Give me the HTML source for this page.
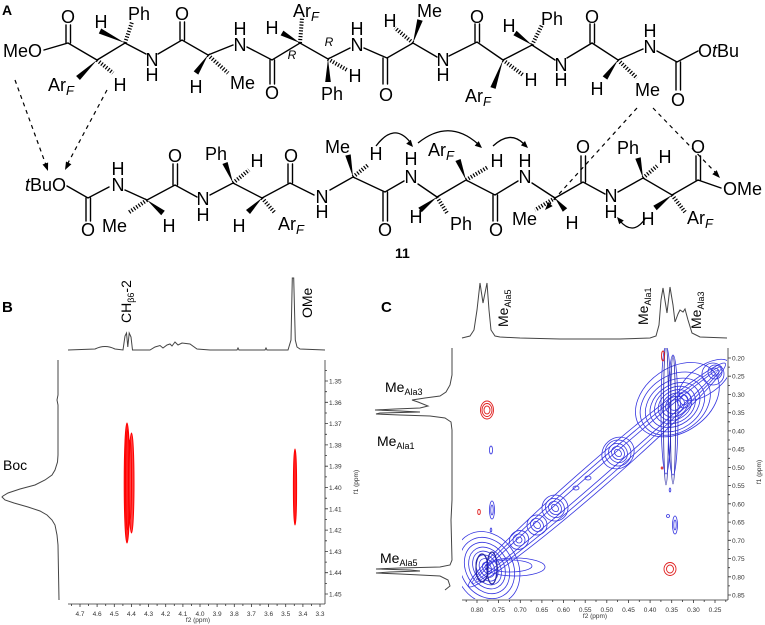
<!DOCTYPE html>
<html><head><meta charset="utf-8"><style>
html,body{margin:0;padding:0;background:#fff;}
svg{display:block;}
.c{font-family:"Liberation Sans",Arial,sans-serif;font-size:18px;fill:#000;}
.m{text-anchor:middle;}
.ax{font-family:"Liberation Sans",Arial,sans-serif;font-size:6.5px;fill:#333;}
.lb{font-family:"Liberation Sans",Arial,sans-serif;font-size:14px;fill:#000;}
</style></head><body>
<svg width="765" height="625" viewBox="0 0 765 625" xmlns="http://www.w3.org/2000/svg">
<rect width="765" height="625" fill="#fff"/>
<defs>
<clipPath id="cc"><rect x="462" y="348" width="265" height="251"/></clipPath>
</defs>
<text x="2" y="15" font-family="Liberation Sans,Arial,sans-serif" font-size="14" font-weight="bold">A</text>
<text x="2" y="312" font-family="Liberation Sans,Arial,sans-serif" font-size="15" font-weight="bold">B</text>
<text x="381" y="312" font-family="Liberation Sans,Arial,sans-serif" font-size="15" font-weight="bold">C</text>

<g stroke="#000" stroke-width="1.4" fill="none" stroke-linecap="round">
<path d="M44,50 L68,43 L97,60 L125,43 L146,54 M158,54 L182,40 L208,55 L233,45 M247,47 L272,60 L300,43 L328,59 L350,48 M364,48 L387,58 L413,43 L437,57 M449,56 L477,42 L503,60 L532,45 L555,60 M567,58 L592,43 L618,60 L643,49 M657,51 L677,62 L698,51"/>
<path d="M66,43 V25 M70.5,43 V25 M180,40 V22 M184.5,40 V22 M270,60 V84 M274.5,60 V84 M383,58 V84 M387.5,58 V84 M475,42 V24 M479.5,42 V24 M590,43 V24 M594.5,43 V24 M676,62 V90 M680.5,62 V90"/>
<path d="M67,186 L88,198 L109,187 M125,190 L147,200 L175,185 L197,197 M210,195 L233,183 L262,198 L290,183 L314,195 M330,190 L353,177 L385,192 L404,181 M418,184 L437,197 L466,180 L495,195 L518,181 M532,183 L555,198 L583,182 L605,194 M618,192 L643,178 L672,195 L698,180 L721,188"/>
<path d="M86,198 V221 M90.5,198 V221 M173,185 V164 M177.5,185 V164 M288,183 V164 M292.5,183 V164 M383,192 V221 M387.5,192 V221 M493,195 V221 M497.5,195 V221 M581,182 V156 M585.5,182 V156 M696,180 V156 M700.5,180 V156"/>
</g>
<g stroke="#000" stroke-width="4" stroke-dasharray="1.2,1.7" fill="none">
<path d="M97,60 L113,73 M125,43 L132,22 M208,55 L228,73 M300,43 L302,18 M328,59 L347,70 M413,43 L395,28 M503,60 L523,75 M532,45 L542,25 M618,60 L637,78"/>
<path d="M147,200 L128,213 M233,183 L249,170 M262,198 L275,213 M353,177 L368,165 M437,197 L447,213 M466,180 L488,167 M555,198 L535,210 M643,178 L657,166 M672,195 L685,212"/>
</g>
<g fill="#000">
<polygon points="97,60 76.1,76 79.9,80"/>
<polygon points="125,43 101.2,28.5 98.8,33.5"/>
<polygon points="208,55 193.7,71.4 198.3,74.6"/>
<polygon points="300,43 283.4,30.6 280.6,35.4"/>
<polygon points="328,59 325.2,82 330.8,82"/>
<polygon points="413,43 422.7,20.8 417.3,19.2"/>
<polygon points="503,60 490.4,87.1 495.6,88.9"/>
<polygon points="532,45 516.6,30.7 513.4,35.3"/>
<polygon points="618,60 602.7,76.4 607.3,79.6"/>
<polygon points="147,200 161.2,215.2 164.8,210.8"/>
<polygon points="233,183 227.6,162 222.4,164"/>
<polygon points="262,198 246,210 250,214"/>
<polygon points="353,177 350.7,154.4 345.3,155.6"/>
<polygon points="437,197 418.3,207.8 421.7,212.2"/>
<polygon points="466,180 460.6,159 455.4,161"/>
<polygon points="555,198 562.8,211.8 567.2,208.2"/>
<polygon points="643,178 640.7,157.3 635.3,158.7"/>
<polygon points="672,195 653.3,205.8 656.7,210.2"/>
</g>
<g stroke="#000" stroke-width="1.2" stroke-dasharray="4,4" fill="none">
<path d="M15,80 L46,165 M107,90 L68,163 M637,108 L549,205 M653,108 L715,172"/>
</g>
<g fill="#000">
<polygon points="48,171 48.1,162.5 42.5,164.5"/>
<polygon points="65,170 71.4,164.3 66,161.5"/>
<polygon points="545,210 552.6,206.1 548.2,202.1"/>
<polygon points="720,178 716.7,170.1 712.3,174.3"/>
</g>
<g stroke="#000" stroke-width="1.3" fill="none">
<path d="M376,146 Q394,122 410,142 M418,143 Q449,118 478,144 M493,146 Q510,130 524,144 M645,219 Q633,236 620,221"/>
</g>
<g fill="#000">
<polygon points="413,147 410.8,139.7 406.2,143.7"/>
<polygon points="482,148 478.7,141.1 474.7,145.7"/>
<polygon points="528,148 525,141 520.9,145.4"/>
<polygon points="617,217 619.2,224.3 623.8,220.5"/>
</g>

<g class="c">
<text x="3" y="57">MeO</text>
<text x="68" y="23" class="m">O</text>
<text x="128" y="20">Ph</text>
<text x="101" y="28" class="m">H</text>
<text x="48" y="91">Ar<tspan font-size="13" font-style="italic" dy="4">F</tspan></text>
<text x="120" y="91" class="m">H</text>
<text x="152" y="66" class="m">N</text>
<text x="152" y="81" class="m">H</text>
<text x="182" y="20" class="m">O</text>
<text x="196" y="93" class="m">H</text>
<text x="230" y="89">Me</text>
<text x="240" y="35" class="m">H</text>
<text x="240" y="51" class="m">N</text>
<text x="272" y="99" class="m">O</text>
<text x="292" y="59" class="m" font-size="12" font-style="italic">R</text>
<text x="272" y="34" class="m">H</text>
<text x="293" y="17">Ar<tspan font-size="13" font-style="italic" dy="4">F</tspan></text>
<text x="329" y="46" class="m" font-size="12" font-style="italic">R</text>
<text x="357" y="35" class="m">H</text>
<text x="357" y="51" class="m">N</text>
<text x="355" y="82" class="m">H</text>
<text x="321" y="100">Ph</text>
<text x="386" y="101" class="m">O</text>
<text x="390" y="27" class="m">H</text>
<text x="417" y="17">Me</text>
<text x="443" y="66" class="m">N</text>
<text x="443" y="81" class="m">H</text>
<text x="477" y="23" class="m">O</text>
<text x="465" y="102">Ar<tspan font-size="13" font-style="italic" dy="4">F</tspan></text>
<text x="531" y="86" class="m">H</text>
<text x="509" y="32" class="m">H</text>
<text x="541" y="25">Ph</text>
<text x="561" y="71" class="m">N</text>
<text x="561" y="86" class="m">H</text>
<text x="592" y="23" class="m">O</text>
<text x="597" y="95" class="m">H</text>
<text x="635" y="96">Me</text>
<text x="650" y="37" class="m">H</text>
<text x="650" y="53" class="m">N</text>
<text x="678" y="106" class="m">O</text>
<text x="698" y="57">O<tspan font-style="italic">t</tspan>Bu</text>
</g>
<g class="c">
<text x="25" y="191"><tspan font-style="italic">t</tspan>BuO</text>
<text x="88" y="236" class="m">O</text>
<text x="118" y="175" class="m">H</text>
<text x="118" y="191" class="m">N</text>
<text x="102" y="232">Me</text>
<text x="169" y="232" class="m">H</text>
<text x="175" y="162" class="m">O</text>
<text x="203" y="205" class="m">N</text>
<text x="203" y="221" class="m">H</text>
<text x="205" y="160">Ph</text>
<text x="257" y="167" class="m">H</text>
<text x="239" y="232" class="m">H</text>
<text x="278" y="230">Ar<tspan font-size="13" font-style="italic" dy="4">F</tspan></text>
<text x="291" y="162" class="m">O</text>
<text x="322" y="203" class="m">N</text>
<text x="322" y="218" class="m">H</text>
<text x="325" y="153">Me</text>
<text x="376" y="160" class="m">H</text>
<text x="385" y="236" class="m">O</text>
<text x="411" y="165" class="m">H</text>
<text x="411" y="183" class="m">N</text>
<text x="428" y="156">Ar<tspan font-size="13" font-style="italic" dy="4">F</tspan></text>
<text x="497" y="167" class="m">H</text>
<text x="416" y="223" class="m">H</text>
<text x="450" y="230">Ph</text>
<text x="496" y="236" class="m">O</text>
<text x="525" y="167" class="m">H</text>
<text x="525" y="183" class="m">N</text>
<text x="512" y="225">Me</text>
<text x="572" y="229" class="m">H</text>
<text x="583" y="153" class="m">O</text>
<text x="611" y="202" class="m">N</text>
<text x="611" y="218" class="m">H</text>
<text x="617" y="154">Ph</text>
<text x="665" y="163" class="m">H</text>
<text x="648" y="225" class="m">H</text>
<text x="687" y="224">Ar<tspan font-size="13" font-style="italic" dy="4">F</tspan></text>
<text x="698" y="153" class="m">O</text>
<text x="723" y="195">OMe</text>
</g>
<text x="395" y="258" font-family="Liberation Sans,Arial,sans-serif" font-size="14" font-weight="bold">11</text>

<!-- Panel B -->
<g stroke="#444" stroke-width="1" fill="none">
<path d="M68,350 L95,349 Q105,344 115,349 L123,350 L125,336 L126.5,333 L127.8,347 L129.2,333 L131,337 L132.5,350 L150,350 L155,347 L160,345.5 L163,348 L167,345 L170,344 L172,346 L175,342 L178,345 L182,343 L190,344 L197,349 L210,350 L237,350 L238,348 L239,350 L265,350 L266,348 L267,350 L288,350 L291,340 L292.3,278 L293.7,278 L295.3,340 L297,347 L300,349 L325,350"/>
<path d="M58,360 L58,395 L57,400 L58,405 L58,455 L57.5,462 L55,470 L52,475 L45,480 L35,485 L20,489 L8,493 L3,496 L2,497 L5,500 L14,503 L28,507 L40,511 L47,515 L52,520 L55,525 L57,535 L58,545 L59,600"/>
</g>
<text class="lb" transform="translate(131,323) rotate(-90)">CH<tspan font-size="9" dy="3">β6</tspan><tspan dy="-3">-2</tspan></text>
<text class="lb" font-size="13" transform="translate(312,318) rotate(-90)">OMe</text>
<text class="lb" x="3" y="470">Boc</text>
<g fill="none" stroke="#f00" stroke-width="1">
<ellipse cx="127" cy="483" rx="2.8" ry="60" fill="#f22"/>
<ellipse cx="127.5" cy="480" rx="2" ry="50"/>
<ellipse cx="131.5" cy="483" rx="2.5" ry="50" fill="#f44"/>
<ellipse cx="130" cy="480" rx="1.5" ry="40"/>
<ellipse cx="295" cy="487" rx="1.6" ry="38" fill="#f22"/>
</g>
<g stroke="#333" stroke-width="0.8" fill="none">
<path d="M325,360 V604 M68,604 H325"/>
<path d="M325,381 h3 M325,402.3 h3 M325,423.6 h3 M325,444.9 h3 M325,466.2 h3 M325,487.5 h3 M325,508.8 h3 M325,530.1 h3 M325,551.4 h3 M325,572.7 h3 M325,594 h3 M325,370.4 h2 M325,391.7 h2 M325,413 h2 M325,434.3 h2 M325,455.6 h2 M325,476.9 h2 M325,498.2 h2 M325,519.5 h2 M325,540.8 h2 M325,562.1 h2 M325,583.4 h2"/>
<path d="M80,604 v3 M97.1,604 v3 M114.3,604 v3 M131.4,604 v3 M148.6,604 v3 M165.7,604 v3 M182.9,604 v3 M200,604 v3 M217.1,604 v3 M234.3,604 v3 M251.4,604 v3 M268.6,604 v3 M285.7,604 v3 M302.9,604 v3 M320,604 v3 M71.4,604 v2 M88.6,604 v2 M105.7,604 v2 M122.9,604 v2 M140,604 v2 M157.1,604 v2 M174.3,604 v2 M191.4,604 v2 M208.6,604 v2 M225.7,604 v2 M242.9,604 v2 M260,604 v2 M277.1,604 v2 M294.3,604 v2 M311.4,604 v2"/>
</g>
<g class="ax">
<text x="329" y="383.5">1.35</text><text x="329" y="404.8">1.36</text><text x="329" y="426.1">1.37</text><text x="329" y="447.4">1.38</text><text x="329" y="468.7">1.39</text><text x="329" y="490">1.40</text><text x="329" y="511.3">1.41</text><text x="329" y="532.6">1.42</text><text x="329" y="553.9">1.43</text><text x="329" y="575.2">1.44</text><text x="329" y="596.5">1.45</text>
</g>
<g class="ax" text-anchor="middle">
<text x="80" y="616">4.7</text><text x="97.1" y="616">4.6</text><text x="114.3" y="616">4.5</text><text x="131.4" y="616">4.4</text><text x="148.6" y="616">4.3</text><text x="165.7" y="616">4.2</text><text x="182.9" y="616">4.1</text><text x="200" y="616">4.0</text><text x="217.1" y="616">3.9</text><text x="234.3" y="616">3.8</text><text x="251.4" y="616">3.7</text><text x="268.6" y="616">3.6</text><text x="285.7" y="616">3.5</text><text x="302.9" y="616">3.4</text><text x="320" y="616">3.3</text>
<text x="198" y="622">f2 (ppm)</text>
<text transform="translate(358,482) rotate(-90)">f1 (ppm)</text>
</g>

<!-- Panel C -->
<g stroke="#444" stroke-width="1" fill="none">
<path d="M462,338 L466,337 L470,336 L474,330 L477,310 L480,283 L483,303 L487,283 L489,310 L491,330 L495,336 L500,337 L520,338 L560,339 L620,339 L650,338 L656,336 L659,325 L661,300 L663,288 L667,313 L670,287 L673,305 L675,322 L678,314 L680,310 L683,312 L685,309 L688,320 L692,333 L700,337 L727,338"/>
<path d="M452,348 L452,375 L450,385 L446,392 L440,396 L425,398 L412,400 L418,402 L428,406 L420,408 L395,409 L375,410 L400,411 L420,412 L380,413 L376,414 L400,415 L430,416 L445,418 L451,422 L452,430 L452,500 L451,520 L452,560 L450,565 L440,567 L400,568 L376,569 L410,570 L420,571 L390,572 L376,573 L400,574 L440,576 L448,580 L450,586 L445,590"/>
</g>
<text class="lb" transform="translate(508,327) rotate(-90)">Me<tspan font-size="9" dy="3">Ala5</tspan></text>
<text class="lb" transform="translate(648,325) rotate(-90)">Me<tspan font-size="9" dy="3">Ala1</tspan></text>
<text class="lb" transform="translate(701,329) rotate(-90)">Me<tspan font-size="9" dy="3">Ala3</tspan></text>
<text class="lb" x="385" y="392">Me<tspan font-size="9" dy="3">Ala3</tspan></text>
<text class="lb" x="377" y="446">Me<tspan font-size="9" dy="3">Ala1</tspan></text>
<text class="lb" x="380" y="563">Me<tspan font-size="9" dy="3">Ala5</tspan></text>

<g clip-path="url(#cc)" fill="none" stroke="#3535e0" stroke-width="0.8">
<g transform="rotate(-41 597 475)">
<ellipse cx="597" cy="475" rx="160" ry="5"/>
<ellipse cx="597" cy="475" rx="165" ry="9"/>
<ellipse cx="597" cy="475" rx="170" ry="13"/>
</g>
<g transform="rotate(-30 487 568)">
<ellipse cx="487" cy="568" rx="4" ry="6"/>
<ellipse cx="487" cy="568" rx="7" ry="10"/>
<ellipse cx="487" cy="568" rx="10" ry="14"/>
<ellipse cx="487" cy="568" rx="13" ry="18"/>
<ellipse cx="487" cy="568" rx="17" ry="22"/>
<ellipse cx="487" cy="568" rx="21" ry="27"/>
<ellipse cx="487" cy="568" rx="26" ry="32"/>
<ellipse cx="487" cy="568" rx="31" ry="38"/>
</g>
<ellipse cx="482" cy="568" rx="6" ry="14" stroke-width="1.2" stroke="#2525a0"/>
<ellipse cx="492" cy="568" rx="5" ry="16" stroke-width="1.2" stroke="#2525a0"/>
<ellipse cx="515" cy="567" rx="30" ry="9"/>
<ellipse cx="510" cy="566" rx="22" ry="6"/>
<g transform="rotate(-41 555 508)">
<ellipse cx="555" cy="508" rx="3" ry="4"/><ellipse cx="555" cy="508" rx="6" ry="7"/><ellipse cx="555" cy="508" rx="9" ry="10"/><ellipse cx="555" cy="508" rx="13" ry="13"/>
</g>
<g transform="rotate(-41 537 525)">
<ellipse cx="537" cy="525" rx="3" ry="4"/><ellipse cx="537" cy="525" rx="6" ry="7"/><ellipse cx="537" cy="525" rx="10" ry="10"/>
</g>
<g transform="rotate(-41 519 540)">
<ellipse cx="519" cy="540" rx="3" ry="3"/><ellipse cx="519" cy="540" rx="6" ry="6"/><ellipse cx="519" cy="540" rx="10" ry="9"/>
</g>
<g transform="rotate(-41 618 453)">
<ellipse cx="618" cy="453" rx="3" ry="4"/><ellipse cx="618" cy="453" rx="6" ry="7"/><ellipse cx="618" cy="453" rx="9" ry="10"/><ellipse cx="618" cy="453" rx="13" ry="13"/><ellipse cx="618" cy="453" rx="17" ry="15"/>
</g>
<ellipse cx="588" cy="478" rx="3" ry="2"/>
<ellipse cx="576" cy="488" rx="3" ry="2"/>
<g transform="rotate(-35 675 405)">
<ellipse cx="675" cy="405" rx="6" ry="5"/>
<ellipse cx="675" cy="405" rx="10" ry="8"/>
<ellipse cx="675" cy="405" rx="14" ry="11"/>
<ellipse cx="675" cy="405" rx="18" ry="14"/>
<ellipse cx="675" cy="405" rx="22" ry="17"/>
<ellipse cx="675" cy="405" rx="27" ry="20"/>
<ellipse cx="675" cy="405" rx="32" ry="24"/>
<ellipse cx="676" cy="404" rx="38" ry="28"/>
<ellipse cx="680" cy="402" rx="46" ry="32"/>
</g>
<ellipse cx="684" cy="400" rx="4" ry="5"/>
<ellipse cx="684" cy="400" rx="7" ry="8"/>
<ellipse cx="715" cy="372" rx="4" ry="4"/>
<ellipse cx="715" cy="372" rx="7" ry="7"/>
<ellipse cx="713" cy="374" rx="11" ry="11"/>
<ellipse cx="705" cy="380" rx="30" ry="14" transform="rotate(-35 705 380)"/>
<ellipse cx="666" cy="415" rx="2.5" ry="70" stroke="#2525a0"/>
<ellipse cx="666" cy="410" rx="5" ry="64"/>
<ellipse cx="673" cy="420" rx="2.5" ry="64" stroke="#2525a0"/>
<ellipse cx="673" cy="415" rx="5" ry="60"/>
<ellipse cx="491" cy="450" rx="1.5" ry="4"/>
<ellipse cx="492" cy="510" rx="2.5" ry="9"/>
<ellipse cx="492" cy="510" rx="1.2" ry="5"/>
<ellipse cx="491" cy="530" rx="0.8" ry="2"/>
<ellipse cx="675" cy="525" rx="2.5" ry="9"/>
<ellipse cx="675" cy="525" rx="1.2" ry="5"/>
<ellipse cx="668" cy="516" rx="1.5" ry="1.5"/>
<ellipse cx="670" cy="490" rx="0.8" ry="2"/>
</g>
<g fill="none" stroke="#e02020" stroke-width="0.9">
<ellipse cx="487" cy="410" rx="3" ry="4"/>
<ellipse cx="487" cy="410" rx="5" ry="6.5"/>
<ellipse cx="487" cy="410" rx="6.5" ry="9"/>
<ellipse cx="663" cy="356" rx="1.5" ry="5"/>
<ellipse cx="479" cy="512" rx="1.3" ry="2.5"/>
<ellipse cx="670" cy="569" rx="3.5" ry="4"/>
<ellipse cx="670" cy="569" rx="6" ry="6.5"/>
<ellipse cx="662" cy="468" rx="0.8" ry="1"/>
</g>
<g stroke="#333" stroke-width="0.8" fill="none">
<path d="M728,348 V600 M462,600 H728"/>
<path d="M728,358 h3 M728,376.2 h3 M728,394.5 h3 M728,412.7 h3 M728,430.9 h3 M728,449.1 h3 M728,467.4 h3 M728,485.6 h3 M728,503.8 h3 M728,522.1 h3 M728,540.3 h3 M728,558.5 h3 M728,576.8 h3 M728,595 h3 M728,367.1 h2 M728,385.4 h2 M728,403.6 h2 M728,421.8 h2 M728,440 h2 M728,458.3 h2 M728,476.5 h2 M728,494.7 h2 M728,513 h2 M728,531.2 h2 M728,549.4 h2 M728,567.7 h2 M728,585.9 h2"/>
<path d="M477,600 v3 M498.6,600 v3 M520.3,600 v3 M541.9,600 v3 M563.5,600 v3 M585.2,600 v3 M606.8,600 v3 M628.5,600 v3 M650.1,600 v3 M671.7,600 v3 M693.4,600 v3 M715,600 v3 M466.2,600 v2 M487.8,600 v2 M509.5,600 v2 M531.1,600 v2 M552.7,600 v2 M574.4,600 v2 M596,600 v2 M617.6,600 v2 M639.3,600 v2 M660.9,600 v2 M682.5,600 v2 M704.2,600 v2 M725.8,600 v2"/>
</g>
<g class="ax">
<text x="732" y="360.5">0.20</text><text x="732" y="378.7">0.25</text><text x="732" y="397">0.30</text><text x="732" y="415.2">0.35</text><text x="732" y="433.4">0.40</text><text x="732" y="451.6">0.45</text><text x="732" y="469.9">0.50</text><text x="732" y="488.1">0.55</text><text x="732" y="506.3">0.60</text><text x="732" y="524.6">0.65</text><text x="732" y="542.8">0.70</text><text x="732" y="561">0.75</text><text x="732" y="579.3">0.80</text><text x="732" y="597.5">0.85</text>
</g>
<g class="ax" text-anchor="middle">
<text x="477" y="612">0.80</text><text x="498.6" y="612">0.75</text><text x="520.3" y="612">0.70</text><text x="541.9" y="612">0.65</text><text x="563.5" y="612">0.60</text><text x="585.2" y="612">0.55</text><text x="606.8" y="612">0.50</text><text x="628.5" y="612">0.45</text><text x="650.1" y="612">0.40</text><text x="671.7" y="612">0.35</text><text x="693.4" y="612">0.30</text><text x="715" y="612">0.25</text>
<text x="595" y="618">f2 (ppm)</text>
<text transform="translate(761,472) rotate(-90)">f1 (ppm)</text>
</g>
</svg>
</body></html>
